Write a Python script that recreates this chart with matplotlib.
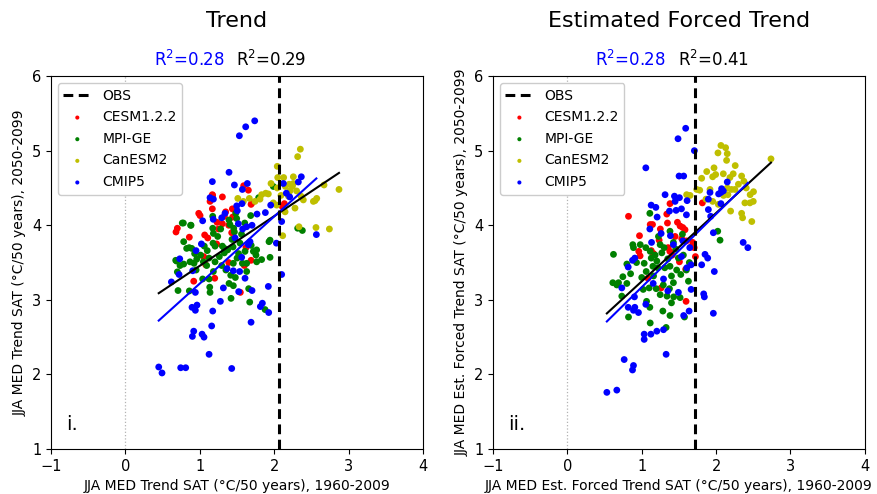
import matplotlib
matplotlib.use("Agg")
import matplotlib.pyplot as plt
import numpy as np

# ---------------- Panel i: simulated trend 1960-2009 vs 2050-2099 ----------------
cesm_x1 = [1.589, 1.652, 1.168, 1.303, 1.137, 1.168, 1.701, 1.688, 1.437, 1.464, 1.347, 0.985, 1.003,
           2.135, 2.108, 1.441, 1.231, 1.303, 1.388, 0.698, 0.680, 0.859, 1.065, 1.106, 1.428, 1.226,
           1.052, 1.079, 1.388, 1.598, 1.688, 0.918, 1.200, 1.544, 1.172, 1.250, 1.330, 1.620]
cesm_y1 = [4.53, 4.47, 4.41, 4.38, 4.32, 4.22, 4.30, 4.28, 4.22, 4.21, 4.18, 4.16, 4.13,
           4.29, 4.25, 4.11, 4.04, 4.02, 4.00, 3.96, 3.91, 3.84, 3.87, 3.83, 3.90, 3.75,
           3.58, 3.47, 3.50, 3.46, 3.53, 3.25, 3.29, 3.10, 4.40, 3.95, 4.12, 3.70]

mpi_x1 = [1.987, 1.790, 1.683, 1.482, 1.495, 1.173, 1.392, 1.405, 0.779, 0.882, 1.173, 1.182, 1.455,
          1.464, 1.603, 0.783, 0.891, 0.823, 1.177, 1.204, 1.303, 1.329, 1.432, 1.446, 1.540, 1.607,
          1.943, 1.929, 0.676, 0.734, 0.783, 0.698, 0.868, 0.922, 0.958, 1.047, 1.124, 1.204, 1.262,
          1.329, 1.374, 1.500, 1.571, 1.629, 1.719, 1.763, 1.754, 1.763, 1.830, 1.943, 1.092, 1.182,
          1.294, 1.450, 1.629, 1.038, 1.124, 1.415, 1.477, 1.392, 1.450, 0.707, 0.859, 1.133, 1.137,
          1.419, 1.656, 1.670, 1.876, 2.377, 2.314, 0.764, 0.876, 0.857, 0.688, 1.010, 1.060, 1.240,
          1.560, 1.690, 0.950, 1.350, 1.520, 1.280, 0.930, 1.100]
mpi_y1 = [4.52, 4.37, 4.13, 4.16, 4.09, 4.12, 4.07, 4.01, 4.03, 4.00, 3.96, 3.89, 3.96,
          3.91, 4.03, 3.78, 3.69, 3.69, 3.76, 3.72, 3.72, 3.69, 3.81, 3.71, 3.76, 3.65,
          3.80, 3.78, 3.53, 3.46, 3.48, 3.375, 3.51, 3.49, 3.545, 3.51, 3.56, 3.51, 3.58,
          3.63, 3.67, 3.56, 3.49, 3.49, 3.65, 3.67, 3.60, 3.51, 3.54, 3.57, 3.46, 3.38,
          3.46, 3.49, 3.38, 3.28, 3.28, 3.33, 3.30, 3.22, 3.19, 3.125, 3.12, 3.17, 3.10,
          3.02, 3.15, 2.97, 2.87, 3.93, 3.96, 4.03, 4.00, 3.70, 3.52, 3.60, 3.72, 3.85,
          3.88, 3.73, 3.40, 3.40, 3.62, 3.95, 3.62, 3.66]

can_x1 = [2.350, 2.314, 2.040, 2.046, 2.126, 2.256, 2.149, 1.956, 2.040, 2.256, 2.243, 2.211, 2.300,
          1.885, 1.830, 1.920, 1.510, 1.665, 2.190, 2.359, 2.390, 2.570, 2.525, 2.547, 1.585, 1.741,
          1.808, 1.987, 2.032, 2.278, 2.145, 2.668, 2.869, 2.332, 2.560, 2.740, 2.113, 2.090, 2.200]
can_y1 = [5.02, 4.92, 4.79, 4.64, 4.64, 4.65, 4.52, 4.56, 4.50, 4.56, 4.52, 4.46, 4.46,
          4.43, 4.41, 4.42, 4.36, 4.36, 4.39, 4.39, 4.34, 4.36, 4.32, 4.33, 4.32, 4.32,
          4.35, 4.30, 4.27, 4.23, 4.18, 4.54, 4.48, 3.98, 3.97, 3.95, 3.86, 4.40, 4.55]

cmip_x1 = [1.531, 1.616, 1.737, 1.392, 1.168, 1.464, 1.638, 2.122, 2.363, 2.323, 1.137, 1.182, 1.495,
           1.571, 1.952, 1.880, 1.768, 2.162, 2.207, 1.294, 1.338, 1.038, 1.517, 1.629, 1.701, 2.099,
           1.473, 1.021, 2.028, 2.565, 0.949, 0.730, 1.674, 1.652, 1.562, 0.904, 0.721, 0.618, 2.099,
           1.365, 1.450, 1.535, 1.607, 1.316, 1.522, 1.701, 1.920, 0.940, 1.276, 0.895, 0.940, 0.962,
           1.173, 1.813, 1.840, 1.925, 1.159, 1.688, 0.918, 0.900, 1.030, 1.056, 1.124, 0.448, 0.492,
           0.743, 0.810, 1.428, 1.566, 1.503, 1.180, 1.575]
cmip_y1 = [5.20, 5.32, 5.40, 4.71, 4.585, 4.54, 4.56, 4.56, 4.65, 4.58, 4.37, 4.35, 4.26,
           4.48, 4.27, 4.17, 4.15, 4.43, 4.38, 4.10, 4.16, 4.06, 4.02, 3.98, 4.00, 4.05,
           3.83, 3.75, 3.76, 3.875, 3.66, 3.55, 3.78, 3.74, 3.57, 3.39, 3.34, 3.24, 3.34,
           3.42, 3.39, 3.38, 3.29, 3.16, 3.11, 3.125, 3.18, 3.10, 2.98, 2.90, 2.86, 2.93,
           2.85, 2.91, 2.955, 2.83, 2.65, 2.70, 2.58, 2.51, 2.54, 2.50, 2.27, 2.10, 2.02,
           2.09, 2.09, 2.08, 4.29, 4.195, 4.08, 3.95]

obs1 = 2.064
fit_all1 = (0.666, 2.791)    # slope, intercept: all ensembles
fit_cmip1 = (0.900, 2.319)   # slope, intercept: CMIP5 only
r2_cmip1, r2_all1 = 0.28, 0.29

# ---------------- Panel ii: estimated forced trend ----------------
cesm_x2 = [0.822, 1.380, 1.815, 1.337, 1.114, 1.145, 1.480, 1.516, 1.552, 1.582, 1.346, 0.970, 1.234,
           1.449, 1.538, 1.600, 1.686, 1.664, 1.705, 1.355, 1.378, 1.128, 1.159, 0.960, 0.978, 1.507,
           1.591, 1.722, 1.083, 1.261, 1.596, 1.410, 1.250]
cesm_y2 = [4.12, 4.29, 4.30, 4.15, 4.01, 4.01, 4.04, 3.99, 3.97, 3.94, 4.03, 3.86, 3.80,
           3.85, 3.82, 3.79, 3.77, 3.71, 3.70, 3.70, 3.65, 3.66, 3.62, 3.65, 3.59, 3.51,
           3.41, 3.58, 3.29, 3.16, 2.98, 3.60, 3.95]

mpi_x2 = [1.109, 0.980, 0.880, 0.889, 0.620, 0.800, 0.746, 0.688, 0.665, 0.611, 0.732, 0.800, 1.055,
          1.114, 1.128, 1.033, 1.225, 1.248, 1.301, 1.270, 1.380, 1.426, 1.458, 1.493, 1.547, 1.203,
          1.216, 1.159, 1.310, 1.380, 1.400, 1.100, 1.020, 1.065, 1.248, 1.194, 1.373, 1.426, 1.400,
          1.430, 1.516, 1.628, 1.109, 0.822, 1.114, 1.284, 1.380, 1.328, 1.575, 2.022, 2.053, 1.525,
          1.560, 1.640, 1.180, 1.350, 1.060, 0.930, 1.290, 1.470, 1.000, 1.150, 1.340, 1.600, 0.850]
mpi_y2 = [4.16, 3.74, 3.74, 3.70, 3.61, 3.48, 3.31, 3.23, 3.20, 3.23, 3.05, 3.22, 3.70,
          3.65, 3.56, 3.49, 3.85, 3.74, 3.70, 3.63, 3.92, 3.77, 3.68, 3.56, 3.88, 3.52,
          3.43, 3.32, 3.43, 3.45, 3.32, 3.16, 3.14, 2.98, 3.07, 3.15, 3.15, 3.23, 2.96,
          3.04, 3.03, 3.25, 2.90, 2.77, 2.69, 2.85, 2.79, 2.63, 2.77, 3.92, 3.80, 3.34,
          3.60, 3.50, 3.60, 3.55, 3.38, 3.50, 3.20, 3.40, 3.30, 3.45, 3.05, 3.40, 3.35]

can_x2 = [2.065, 2.128, 2.150, 2.141, 2.025, 2.257, 1.874, 1.972, 1.994, 1.954, 2.097, 2.186, 2.230,
          2.343, 2.374, 1.806, 1.604, 1.650, 1.740, 2.150, 2.208, 2.253, 2.159, 2.405, 2.458, 2.503,
          1.954, 2.030, 2.195, 2.343, 2.387, 2.455, 2.500, 2.356, 2.480, 2.738, 1.864, 1.918, 2.100,
          2.300, 1.780]
can_y2 = [5.07, 5.04, 4.96, 4.87, 4.97, 4.80, 4.72, 4.77, 4.68, 4.65, 4.69, 4.64, 4.69,
          4.66, 4.59, 4.63, 4.41, 4.40, 4.48, 4.50, 4.48, 4.48, 4.41, 4.50, 4.41, 4.45,
          4.32, 4.28, 4.19, 4.16, 4.30, 4.30, 4.32, 4.10, 4.05, 4.89, 4.35, 4.48, 4.40,
          4.55, 4.47]

cmip_x2 = [1.591, 1.488, 1.708, 1.055, 1.502, 1.564, 1.314, 1.440, 1.507, 1.449, 1.610, 1.127, 1.190,
           1.373, 1.462, 1.534, 1.601, 1.207, 1.109, 1.261, 1.386, 1.918, 1.896, 2.034, 2.065, 2.097,
           2.074, 2.150, 1.896, 1.927, 2.065, 1.963, 2.364, 2.427, 0.907, 0.876, 0.818, 1.132, 1.426,
           1.553, 1.646, 1.664, 1.606, 1.534, 1.806, 1.851, 1.887, 1.976, 0.732, 1.154, 1.293, 1.664,
           1.493, 1.351, 1.833, 1.842, 0.902, 0.818, 0.889, 0.956, 0.907, 1.055, 1.564, 1.637, 1.963,
           1.033, 1.033, 1.123, 1.203, 1.293, 1.328, 0.764, 0.889, 0.876, 0.531, 0.665]
cmip_y2 = [5.30, 5.16, 5.00, 4.77, 4.66, 4.66, 4.41, 4.39, 4.37, 4.32, 4.33, 4.27, 4.24,
           4.19, 4.20, 4.22, 4.14, 4.11, 3.95, 3.89, 3.86, 4.44, 4.35, 4.42, 4.44, 4.46,
           4.49, 4.58, 4.21, 4.12, 4.29, 3.90, 3.77, 3.70, 3.56, 3.53, 3.44, 3.77, 3.74,
           3.79, 3.70, 3.47, 3.43, 3.58, 3.47, 3.61, 3.56, 3.38, 3.16, 3.22, 3.28, 3.14,
           3.10, 3.12, 3.08, 3.04, 3.04, 2.90, 2.86, 2.83, 2.90, 2.94, 2.79, 2.85, 2.82,
           2.54, 2.47, 2.54, 2.58, 2.60, 2.27, 2.20, 2.12, 2.06, 1.76, 1.79]

obs2 = 1.712
fit_all2 = (0.916, 2.332)
fit_cmip2 = (0.980, 2.190)
r2_cmip2, r2_all2 = 0.28, 0.41

groups = ["CESM1.2.2", "MPI-GE", "CanESM2", "CMIP5"]
colors = ["red", "green", "y", "blue"]

plt.rcParams["font.family"] = ["DejaVu Sans"]

fig = plt.figure(figsize=(8.78, 4.94), dpi=100)
ax1 = fig.add_axes([0.058, 0.091, 0.424, 0.755])
ax2 = fig.add_axes([0.5615, 0.091, 0.4235, 0.755])

panels = [
    (ax1, [(cesm_x1, cesm_y1), (mpi_x1, mpi_y1), (can_x1, can_y1), (cmip_x1, cmip_y1)],
     obs1, fit_all1, fit_cmip1, r2_cmip1, r2_all1, "Trend", "i.",
     "JJA MED Trend SAT (°C/50 years), 1960-2009",
     "JJA MED Trend SAT (°C/50 years), 2050-2099"),
    (ax2, [(cesm_x2, cesm_y2), (mpi_x2, mpi_y2), (can_x2, can_y2), (cmip_x2, cmip_y2)],
     obs2, fit_all2, fit_cmip2, r2_cmip2, r2_all2, "Estimated Forced Trend", "ii.",
     "JJA MED Est. Forced Trend SAT (°C/50 years), 1960-2009",
     "JJA MED Est. Forced Trend SAT (°C/50 years), 2050-2099"),
]

for ax, sets, obs, fa, fc, r2c, r2a, title, tag, xl, yl in panels:
    ax.axvline(0, color="0.7", lw=0.9, ls=":", zorder=0)
    ax.axvline(obs, color="black", lw=2.2, ls=(0, (3.2, 1.8)), zorder=4, label="OBS")
    for (xs, ys), name, c in zip(sets, groups, colors):
        ax.scatter(xs, ys, s=24, color=c, edgecolors="none", label=name, zorder=2)

    all_x = np.concatenate([np.asarray(s[0]) for s in sets])
    cx = np.asarray(sets[3][0])
    xa = np.array([all_x.min(), all_x.max()])
    xc = np.array([cx.min(), cx.max()])
    ax.plot(xa, fa[0] * xa + fa[1], color="black", lw=1.5, zorder=3)
    ax.plot(xc, fc[0] * xc + fc[1], color="blue", lw=1.5, zorder=3)

    ax.set_xlim(-1, 4)
    ax.set_ylim(1, 6)
    ax.set_xticks([-1, 0, 1, 2, 3, 4])
    ax.set_yticks([1, 2, 3, 4, 5, 6])
    ax.tick_params(labelsize=10.5)
    ax.set_xlabel(xl, fontsize=10)
    ax.set_ylabel(yl, fontsize=10)

    ax.text(0.04, 0.04, tag, transform=ax.transAxes, fontsize=14, ha="left", va="bottom")
    ax.text(0.5, 1.12, title, transform=ax.transAxes, fontsize=16, ha="center", va="bottom")
    ax.text(0.465, 1.015, f"R$^2$={r2c:.2f}", transform=ax.transAxes, fontsize=12,
            color="blue", ha="right", va="bottom")
    ax.text(0.497, 1.015, f"R$^2$={r2a:.2f}", transform=ax.transAxes, fontsize=12,
            color="black", ha="left", va="bottom")

    ax.legend(loc="upper left", fontsize=10, markerscale=0.6, handlelength=2.0,
              borderpad=0.4, labelspacing=0.55, framealpha=1.0, edgecolor="0.8")

fig.savefig("out.png", dpi=100)
